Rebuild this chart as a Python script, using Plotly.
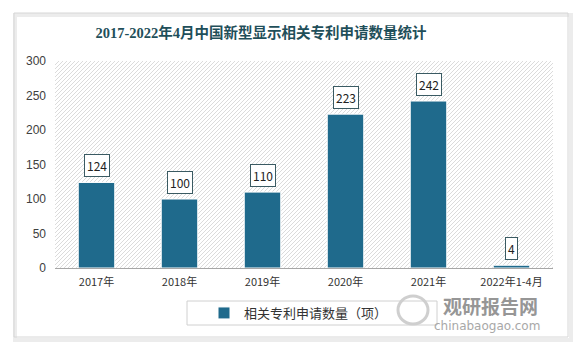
import plotly.graph_objects as go
import base64

categories = ["2017年", "2018年", "2019年", "2020年", "2021年", "2022年1-4月"]
values = [124, 100, 110, 223, 242, 4]
series_name = "相关专利申请数量（项）"
title_text = "2017-2022年4月中国新型显示相关专利申请数量统计"
y_ticks = [0, 50, 100, 150, 200, 250, 300]

W, H = 583, 349
ML, MR, MT, MB = 55, 30, 61, 81
PW = W - ML - MR
PH = H - MT - MB

def px(x):
    return (x - ML) / PW

def py(y):
    return (H - MB - y) / PH

BAR = "#1f6a8c"

fig = go.Figure()
fig.add_trace(go.Bar(
    x=categories, y=values, name=series_name,
    marker=dict(color=BAR, line=dict(color="#ffffff", width=1)),
    width=0.44, showlegend=True,
))

for c, v in zip(categories, values):
    fig.add_annotation(
        x=c, y=v, text=str(v), showarrow=False, yanchor="bottom", yshift=5,
        font=dict(family="Noto Sans CJK SC, Liberation Sans", size=12, color="#222222"),
        bgcolor="#ffffff", bordercolor="#3a5a62", borderwidth=1, borderpad=2,
    )

# hatch background for the plot area
lines = []
step = 4
for k in range(-PH, PW + PH, step):
    lines.append(f'<line x1="{k}" y1="{PH}" x2="{k + PH}" y2="0" />')
svg = (f'<svg xmlns="http://www.w3.org/2000/svg" width="{PW}" height="{PH}" viewBox="0 0 {PW} {PH}">'
       f'<g stroke="#d2d2d2" stroke-width="0.8">' + "".join(lines) + '</g></svg>')
src = "data:image/svg+xml;base64," + base64.b64encode(svg.encode()).decode()
fig.add_layout_image(dict(source=src, xref="paper", yref="paper", x=0, y=1,
                          sizex=1, sizey=1, xanchor="left", yanchor="top",
                          sizing="stretch", layer="below"))

# card and shadow
shapes = [
    dict(type="rect", xref="paper", yref="paper", x0=px(15), x1=px(571), y0=py(340), y1=py(15),
         line=dict(color="#ececec", width=4), fillcolor="rgba(0,0,0,0)", layer="below"),
    dict(type="rect", xref="paper", yref="paper", x0=px(14), x1=px(568), y0=py(337), y1=py(13),
         line=dict(color="#d6d6d6", width=1), fillcolor="rgba(0,0,0,0)", layer="below"),
    # legend frame
    dict(type="rect", xref="paper", yref="paper", x0=px(187), x1=px(437), y0=py(325), y1=py(301),
         line=dict(color="#d0d0d0", width=1), fillcolor="rgba(0,0,0,0)", layer="below"),
    # watermark logo
    dict(type="circle", xref="paper", yref="paper", x0=px(398), x1=px(428), y0=py(324), y1=py(296),
         line=dict(color="#cfcfcf", width=3), fillcolor="rgba(0,0,0,0)", layer="above"),
]
fig.update_layout(shapes=shapes)

fig.add_annotation(xref="paper", yref="paper", x=px(490), y=py(305), text="<b>观研报告网</b>",
                   xanchor="center", yanchor="middle",
                   showarrow=False, font=dict(family="Noto Sans CJK SC", size=19, color="#969696"))
fig.add_annotation(xref="paper", yref="paper", x=px(487), y=py(326), text="chinabaogao.com",
                   xanchor="center", yanchor="middle",
                   showarrow=False, font=dict(family="DejaVu Sans", size=12, color="#a8a8a8"))

fig.update_layout(
    width=W, height=H,
    margin=dict(l=ML, r=MR, t=MT, b=MB, autoexpand=False),
    paper_bgcolor="#ffffff", plot_bgcolor="rgba(0,0,0,0)",
    title=dict(text="<b>" + title_text + "</b>", xref="container", yref="container",
               x=261 / W, y=1 - 33 / H, xanchor="center", yanchor="middle",
               font=dict(family="Liberation Serif, Noto Sans CJK SC", size=14.5, color="#1f4f5a")),
    xaxis=dict(showline=True, linecolor="#a6a6a6", linewidth=1, showgrid=False, ticks="",
               tickangle=0, automargin=False, ticklabelstandoff=4,
               tickfont=dict(family="Noto Sans CJK SC, Liberation Sans", size=11, color="#333333")),
    yaxis=dict(range=[0, 300], tickvals=y_ticks, showgrid=False, zeroline=False, showline=False,
               ticks="", ticklabelstandoff=8, automargin=False,
               tickfont=dict(family="Liberation Sans, Noto Sans CJK SC", size=12, color="#404040")),
    legend=dict(xref="container", yref="container", x=204 / W, y=1 - 313 / H,
                xanchor="left", yanchor="middle", bgcolor="rgba(0,0,0,0)",
                font=dict(family="Noto Sans CJK SC", size=13, color="#333333")),
    showlegend=True,
)

fig.write_html("out.html")
